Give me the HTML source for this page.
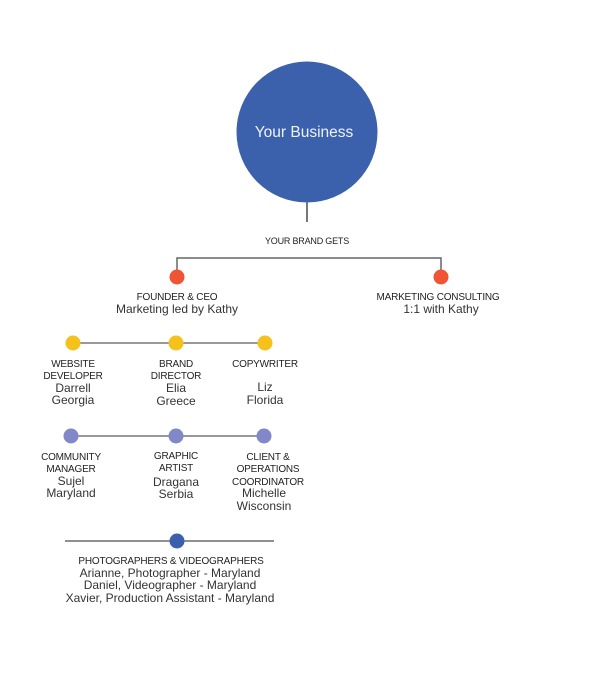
<!DOCTYPE html>
<html><head><meta charset="utf-8"><style>
html,body{margin:0;padding:0;background:#fff;}
svg{display:block;}
text{font-family:"Liberation Sans",sans-serif;text-anchor:middle;}
.h{font-size:10px;fill:#222;letter-spacing:-0.2px;}
.b{font-size:12px;fill:#333;}
</style></head><body>
<svg width="612" height="676" viewBox="0 0 612 676" xmlns="http://www.w3.org/2000/svg">
<circle cx="307" cy="132" r="70.5" fill="#3b61ad"/>
<text x="304" y="137" style="font-size:15.5px;fill:#eef2fa;">Your Business</text>
<line x1="307" y1="202" x2="307" y2="222" stroke="#777" stroke-width="2"/>
<text class="h" x="307" y="244" style="font-size:9px">YOUR BRAND GETS</text>
<polyline points="177,277 177,258 441,258 441,277" fill="none" stroke="#666" stroke-width="1.5"/>
<circle cx="177" cy="277" r="7.5" fill="#ef5535"/>
<circle cx="441" cy="277" r="7.5" fill="#ef5535"/>
<text class="h" x="177" y="300">FOUNDER &amp; CEO</text>
<text class="b" x="177" y="313">Marketing led by Kathy</text>
<text class="h" x="438" y="300">MARKETING CONSULTING</text>
<text class="b" x="441" y="313">1:1 with Kathy</text>

<line x1="73" y1="343" x2="265" y2="343" stroke="#777" stroke-width="1.5"/>
<circle cx="73" cy="343" r="7.5" fill="#f5c11b"/>
<circle cx="176" cy="343" r="7.5" fill="#f5c11b"/>
<circle cx="265" cy="343" r="7.5" fill="#f5c11b"/>
<text class="h" x="73" y="367">WEBSITE</text>
<text class="h" x="73" y="379">DEVELOPER</text>
<text class="b" x="73" y="392">Darrell</text>
<text class="b" x="73" y="404">Georgia</text>
<text class="h" x="176" y="367">BRAND</text>
<text class="h" x="176" y="379">DIRECTOR</text>
<text class="b" x="176" y="392">Elia</text>
<text class="b" x="176" y="405">Greece</text>
<text class="h" x="265" y="367">COPYWRITER</text>
<text class="b" x="265" y="391">Liz</text>
<text class="b" x="265" y="404">Florida</text>

<line x1="71" y1="436" x2="264" y2="436" stroke="#777" stroke-width="1.5"/>
<circle cx="71" cy="436" r="7.5" fill="#8088c8"/>
<circle cx="176" cy="436" r="7.5" fill="#8088c8"/>
<circle cx="264" cy="436" r="7.5" fill="#8088c8"/>
<text class="h" x="71" y="460">COMMUNITY</text>
<text class="h" x="71" y="472">MANAGER</text>
<text class="b" x="71" y="485">Sujel</text>
<text class="b" x="71" y="497">Maryland</text>
<text class="h" x="176" y="459">GRAPHIC</text>
<text class="h" x="176" y="471">ARTIST</text>
<text class="b" x="176" y="486">Dragana</text>
<text class="b" x="176" y="498">Serbia</text>
<text class="h" x="268" y="460">CLIENT &amp;</text>
<text class="h" x="268" y="472">OPERATIONS</text>
<text class="h" x="268" y="485">COORDINATOR</text>
<text class="b" x="264" y="497">Michelle</text>
<text class="b" x="264" y="510">Wisconsin</text>

<line x1="65" y1="541" x2="274" y2="541" stroke="#222" stroke-width="1"/>
<circle cx="177" cy="541" r="7.5" fill="#3b61ad"/>
<text class="h" x="171" y="564">PHOTOGRAPHERS &amp; VIDEOGRAPHERS</text>
<text class="b" x="170" y="577">Arianne, Photographer - Maryland</text>
<text class="b" x="170" y="589">Daniel, Videographer  - Maryland</text>
<text class="b" x="170" y="602">Xavier, Production Assistant - Maryland</text>
</svg>
</body></html>
